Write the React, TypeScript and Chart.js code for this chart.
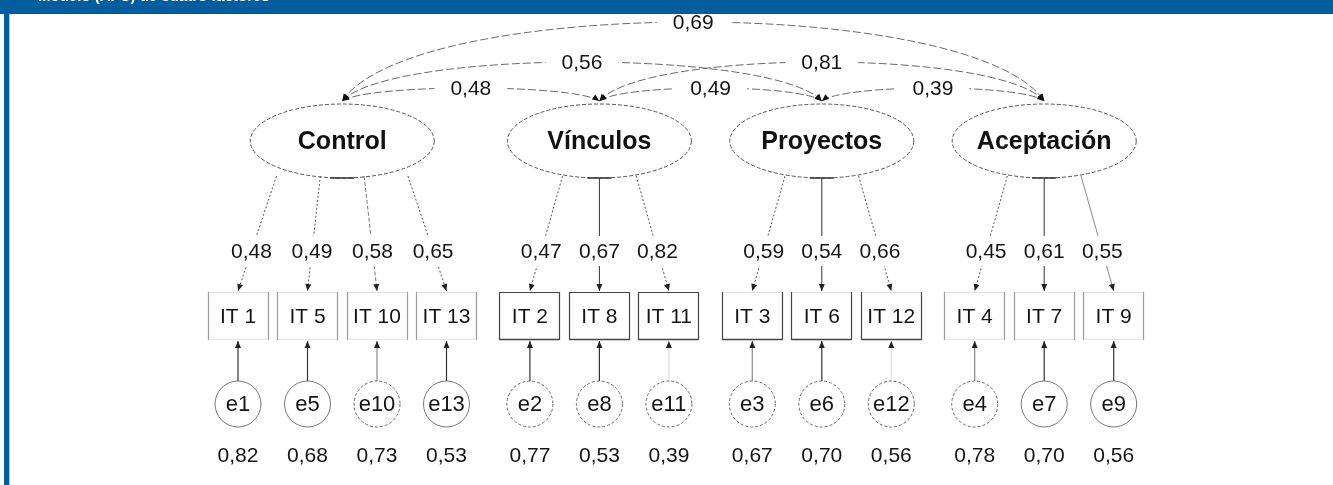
import { useEffect, useRef } from "react";
import { Chart, registerables } from "chart.js";

Chart.register(...registerables);

// ---------- data ----------
const HEADER_TEXT = "Modelo (AFC) de cuatro factores";
const FACTORS = ["Control", "Vínculos", "Proyectos", "Aceptación"];
const ITEMS = [
  ["IT 1", "IT 5", "IT 10", "IT 13"],
  ["IT 2", "IT 8", "IT 11"],
  ["IT 3", "IT 6", "IT 12"],
  ["IT 4", "IT 7", "IT 9"],
];
const ERRORS = [
  ["e1", "e5", "e10", "e13"],
  ["e2", "e8", "e11"],
  ["e3", "e6", "e12"],
  ["e4", "e7", "e9"],
];
const LOADINGS = [
  [0.48, 0.49, 0.58, 0.65],
  [0.47, 0.67, 0.82],
  [0.59, 0.54, 0.66],
  [0.45, 0.61, 0.55],
];
const ERROR_VARIANCES = [
  [0.82, 0.68, 0.73, 0.53],
  [0.77, 0.53, 0.39],
  [0.67, 0.7, 0.56],
  [0.78, 0.7, 0.56],
];
const CORR_PAIRS = [
  [0, 1],
  [1, 2],
  [2, 3],
  [0, 2],
  [1, 3],
  [0, 3],
];
const CORR_VALUES = [0.48, 0.49, 0.39, 0.56, 0.81, 0.69];

// ---------- styles (kept apart from data) ----------
const LOADING_STYLE = [
  ["dot", "dot", "dash", "dot"],
  ["dot", "solid", "dot"],
  ["dot", "solid", "dot"],
  ["dot", "solid", "light"],
];
const ERROR_CIRCLE_STYLE = [
  ["solid", "solid", "dash", "solid"],
  ["dash", "dash", "dash"],
  ["dash", "dash", "dash"],
  ["dash", "solid", "solid"],
];
const ERROR_LINE_STYLE = [
  ["dark", "dark", "light", "dark"],
  ["dark", "dark", "faint"],
  ["light", "dark", "faint"],
  ["light", "dark", "dark"],
];
const BOX_STYLE = ["sides", "full", "bottom", "sides"];

// ---------- layout ----------
const W = 1333;
const H = 485;
const GROUP_GAP = 0.2;
const SLOT_PX = 69.5;
const FIRST_SLOT_PX = 238;
const X_MIN = -FIRST_SLOT_PX / SLOT_PX;
const X_MAX = (W - FIRST_SLOT_PX) / SLOT_PX;
const ROW = {
  arcEnd: 101,
  factor: 141,
  loadStart: 176,
  loadLabel: 251,
  boxTop: 292,
  boxBottom: 340,
  boxLabel: 317,
  error: 404,
  errorVar: 455,
};
const ARC_PEAK = [0, 88, 62, 22];
const FACTOR_RX = 92;
const FACTOR_RY = 37;
const BOX_W = 61;
const ERR_R = 23;
const FONT = '"Liberation Sans", Arial, Helvetica, sans-serif';
const BLUE = "#005e9e";

const fmt = (v: number) => v.toFixed(2).replace(".", ",");

// slot positions derived from item order
const ITEM_SLOTS: number[][] = [];
{
  let idx = 0;
  ITEMS.forEach((grp, g) => {
    ITEM_SLOTS.push(grp.map(() => idx++ + GROUP_GAP * g));
  });
}
const FACTOR_SLOTS = ITEM_SLOTS.map((s) => s.reduce((a, b) => a + b, 0) / s.length);

function arrowHead(ctx: CanvasRenderingContext2D, fx: number, fy: number, tx: number, ty: number, len = 7, half = 3) {
  const a = Math.atan2(ty - fy, tx - fx);
  ctx.beginPath();
  ctx.moveTo(tx, ty);
  ctx.lineTo(tx - len * Math.cos(a) + half * Math.sin(a), ty - len * Math.sin(a) - half * Math.cos(a));
  ctx.lineTo(tx - len * Math.cos(a) - half * Math.sin(a), ty - len * Math.sin(a) + half * Math.cos(a));
  ctx.closePath();
  ctx.fill();
}

function labelWithBg(ctx: CanvasRenderingContext2D, text: string, x: number, y: number, padX: number, padY: number, font: string) {
  ctx.font = font;
  const w = ctx.measureText(text).width;
  ctx.fillStyle = "#ffffff";
  ctx.fillRect(x - w / 2 - padX, y - 9 - padY, w + 2 * padX, 18 + 2 * padY);
  ctx.fillStyle = "#151515";
  ctx.textAlign = "center";
  ctx.textBaseline = "middle";
  ctx.fillText(text, x, y + 1);
}

const diagramPlugin = {
  id: "semDiagram",
  beforeDraw(chart: any) {
    const ctx: CanvasRenderingContext2D = chart.ctx;
    ctx.save();
    ctx.fillStyle = "#ffffff";
    ctx.fillRect(0, 0, chart.width, chart.height);
    ctx.fillStyle = BLUE;
    ctx.fillRect(0, 0, chart.width, 14);
    ctx.fillRect(4, 14, 5, chart.height - 14);
    ctx.fillStyle = "#9cc3e0";
    ctx.fillRect(9, 14, 1, chart.height - 14);
    ctx.fillStyle = "#ffffff";
    ctx.font = `bold 15px ${FONT}`;
    ctx.textAlign = "left";
    ctx.textBaseline = "alphabetic";
    ctx.fillText(HEADER_TEXT, 38, 1);
    ctx.restore();
  },
  afterDatasetsDraw(chart: any) {
    const ctx: CanvasRenderingContext2D = chart.ctx;
    const xs = chart.scales.x;
    const ys = chart.scales.y;
    const px = (v: number) => xs.getPixelForValue(v);
    const py = (v: number) => ys.getPixelForValue(v);
    ctx.save();
    ctx.lineCap = "butt";

    // ---- correlation arcs ----
    const numFont = `21px ${FONT}`;
    const arcLabels: { t: string; x: number; y: number }[] = [];
    CORR_PAIRS.forEach(([a, b], i) => {
      const x1 = px(FACTOR_SLOTS[a]);
      const x2 = px(FACTOR_SLOTS[b]);
      const y0 = py(ROW.arcEnd);
      const peak = py(ARC_PEAK[b - a]);
      const yc = (peak - 0.25 * y0) / 0.75;
      const d = (x2 - x1) * 0.1;
      ctx.strokeStyle = "#6a6a6a";
      ctx.lineWidth = 1;
      ctx.setLineDash([8, 3]);
      ctx.beginPath();
      ctx.moveTo(x1, y0);
      ctx.bezierCurveTo(x1 + d, yc, x2 - d, yc, x2, y0);
      ctx.stroke();
      ctx.setLineDash([]);
      ctx.fillStyle = "#111";
      arrowHead(ctx, x1 + d, yc, x1, y0, 7, 3);
      arrowHead(ctx, x2 - d, yc, x2, y0, 7, 3);
      arcLabels.push({ t: fmt(CORR_VALUES[i]), x: (x1 + x2) / 2, y: peak });
    });
    arcLabels.forEach((l) => labelWithBg(ctx, l.t, l.x, l.y, 16, -1, numFont));

    // ---- factors ----
    FACTORS.forEach((name, g) => {
      const cx = px(FACTOR_SLOTS[g]);
      const cy = py(ROW.factor);
      ctx.fillStyle = "#ffffff";
      ctx.strokeStyle = "#555";
      ctx.lineWidth = 1;
      ctx.setLineDash([4, 2]);
      ctx.beginPath();
      ctx.ellipse(cx, cy, FACTOR_RX, FACTOR_RY, 0, 0, Math.PI * 2);
      ctx.fill();
      ctx.stroke();
      ctx.setLineDash([]);
      ctx.lineWidth = 1.5;
      ctx.strokeStyle = "#333";
      ctx.beginPath();
      ctx.moveTo(cx - 12, cy + FACTOR_RY);
      ctx.lineTo(cx + 12, cy + FACTOR_RY);
      ctx.stroke();
      ctx.fillStyle = "#111";
      ctx.font = `bold 25px ${FONT}`;
      ctx.textAlign = "center";
      ctx.textBaseline = "middle";
      ctx.fillText(name, cx, cy + 1);
    });

    // ---- loadings ----
    const loadLabels: { t: string; x: number; y: number }[] = [];
    ITEMS.forEach((grp, g) => {
      const n = grp.length;
      const spread = 0.1 * n + 0.23;
      grp.forEach((_, k) => {
        const sx = px(FACTOR_SLOTS[g] + (k - (n - 1) / 2) * spread);
        const sy = py(k === (n - 1) / 2 ? ROW.loadStart + 2 : ROW.loadStart);
        const ex = px(ITEM_SLOTS[g][k]);
        const ey = py(ROW.boxTop) - 1;
        const st = LOADING_STYLE[g][k];
        ctx.lineWidth = 1;
        if (st === "solid") {
          ctx.setLineDash([]);
          ctx.strokeStyle = "#333";
        } else if (st === "light") {
          ctx.setLineDash([]);
          ctx.strokeStyle = "#8a8a8a";
        } else if (st === "dash") {
          ctx.setLineDash([4, 2]);
          ctx.strokeStyle = "#777";
        } else {
          ctx.setLineDash([2, 2]);
          ctx.strokeStyle = "#555";
        }
        ctx.beginPath();
        ctx.moveTo(sx, sy);
        ctx.lineTo(ex, ey);
        ctx.stroke();
        ctx.setLineDash([]);
        ctx.fillStyle = "#222";
        arrowHead(ctx, sx, sy, ex, ey, 7, 3);
        const ly = py(ROW.loadLabel);
        const t = (ly - sy) / (ey - sy);
        loadLabels.push({ t: fmt(LOADINGS[g][k]), x: sx + (ex - sx) * t, y: ly });
      });
    });
    loadLabels.forEach((l) => labelWithBg(ctx, l.t, l.x, l.y, 3, 6, numFont));

    // ---- item boxes ----
    ITEMS.forEach((grp, g) => {
      grp.forEach((label, k) => {
        const cx = px(ITEM_SLOTS[g][k]);
        const top = py(ROW.boxTop);
        const bot = py(ROW.boxBottom);
        const l = Math.round(cx - BOX_W / 2) + 0.5;
        const r = Math.round(cx + BOX_W / 2) - 0.5;
        const st = BOX_STYLE[g];
        const side = st === "sides" ? "#9a9a9a" : "#444";
        const topC = st === "full" ? "#444" : "#e2e2e2";
        const botC = st === "sides" ? "#e6e6e6" : "#444";
        ctx.lineWidth = 1;
        ctx.strokeStyle = topC;
        ctx.beginPath();
        ctx.moveTo(l, top + 0.5);
        ctx.lineTo(r, top + 0.5);
        ctx.stroke();
        ctx.strokeStyle = botC;
        ctx.lineWidth = st === "sides" ? 1 : 1.5;
        ctx.beginPath();
        ctx.moveTo(l, bot - 0.5);
        ctx.lineTo(r, bot - 0.5);
        ctx.stroke();
        ctx.lineWidth = 1.2;
        ctx.strokeStyle = side;
        ctx.beginPath();
        ctx.moveTo(l, top);
        ctx.lineTo(l, bot);
        ctx.moveTo(r, top);
        ctx.lineTo(r, bot);
        ctx.stroke();
        ctx.fillStyle = "#151515";
        ctx.font = `21px ${FONT}`;
        ctx.textAlign = "center";
        ctx.textBaseline = "middle";
        ctx.fillText(label, cx, py(ROW.boxLabel));
      });
    });

    // ---- errors ----
    ERRORS.forEach((grp, g) => {
      grp.forEach((label, k) => {
        const cx = px(ITEM_SLOTS[g][k]);
        const cy = py(ROW.error);
        const ls = ERROR_LINE_STYLE[g][k];
        const lineTop = py(ROW.boxBottom) + 1;
        ctx.setLineDash([]);
        ctx.lineWidth = 1.2;
        ctx.strokeStyle = ls === "dark" ? "#333" : ls === "light" ? "#888" : "#e0e0e0";
        ctx.beginPath();
        ctx.moveTo(cx, cy - ERR_R);
        ctx.lineTo(cx, lineTop);
        ctx.stroke();
        ctx.fillStyle = "#222";
        arrowHead(ctx, cx, cy - ERR_R, cx, lineTop, 7, 3);
        const cs = ERROR_CIRCLE_STYLE[g][k];
        ctx.lineWidth = 1;
        ctx.strokeStyle = cs === "solid" ? "#777" : "#666";
        ctx.setLineDash(cs === "solid" ? [] : [3, 2]);
        ctx.fillStyle = "#fff";
        ctx.beginPath();
        ctx.arc(cx, cy, ERR_R, 0, Math.PI * 2);
        ctx.fill();
        ctx.stroke();
        ctx.setLineDash([]);
        ctx.fillStyle = "#151515";
        ctx.font = `22px ${FONT}`;
        ctx.textAlign = "center";
        ctx.textBaseline = "middle";
        ctx.fillText(label, cx, cy + 1);
        ctx.font = numFont;
        ctx.fillText(fmt(ERROR_VARIANCES[g][k]), cx, py(ROW.errorVar) + 1);
      });
    });

    ctx.restore();
  },
};

export default function App() {
  const ref = useRef<HTMLCanvasElement>(null);
  useEffect(() => {
    const itemPoints = ITEM_SLOTS.flat().map((x) => ({ x, y: ROW.boxLabel }));
    const chart = new Chart(ref.current as HTMLCanvasElement, {
      type: "scatter",
      data: {
        datasets: [
          {
            label: "Ítems",
            data: itemPoints,
            pointRadius: 0,
            pointHoverRadius: 0,
          },
        ],
      },
      options: {
        animation: false,
        responsive: true,
        maintainAspectRatio: false,
        events: [],
        layout: { padding: 0 },
        plugins: { legend: { display: false }, tooltip: { enabled: false } },
        scales: {
          x: { type: "linear", min: X_MIN, max: X_MAX, display: false },
          y: { type: "linear", min: 0, max: H, reverse: true, display: false },
        },
      },
      plugins: [diagramPlugin as any],
    });
    return () => chart.destroy();
  }, []);
  return (
    <div style={{ position: "fixed", left: 0, top: 0, width: W, height: H, background: "#fff" }}>
      <canvas ref={ref} />
    </div>
  );
}
